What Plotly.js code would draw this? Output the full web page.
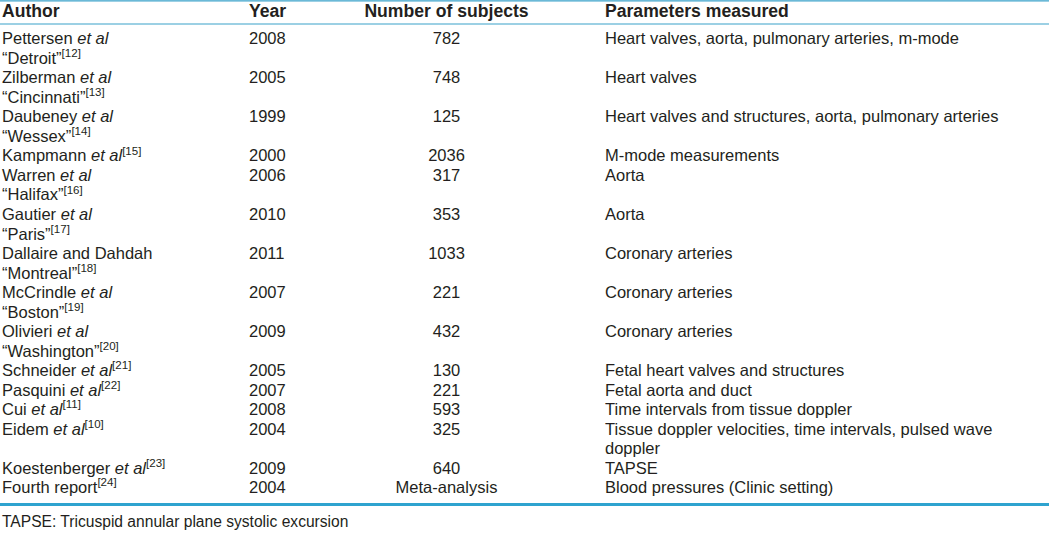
<!DOCTYPE html>
<html>
<head>
<meta charset="utf-8">
<script src="https://cdn.plot.ly/plotly-3.0.1.min.js"></script>
<style>
  html, body { margin: 0; padding: 0; overflow: hidden; background: #ffffff; }
  #chart { width: 1049px; height: 536px; }
</style>
</head>
<body>
<div id="chart"></div>
<script>
// ---- Data ----
const headers = ["Author", "Year", "Number of subjects", "Parameters measured"];
const authors = ["Pettersen <i>et al</i>", "Zilberman <i>et al</i>", "Daubeney <i>et al</i>", "Kampmann <i>et al</i>",
  "Warren <i>et al</i>", "Gautier <i>et al</i>", "Dallaire and Dahdah", "McCrindle <i>et al</i>", "Olivieri <i>et al</i>",
  "Schneider <i>et al</i>", "Pasquini <i>et al</i>", "Cui <i>et al</i>", "Eidem <i>et al</i>", "Koestenberger <i>et al</i>",
  "Fourth report"];
const cohorts = ["Detroit", "Cincinnati", "Wessex", "", "Halifax", "Paris", "Montreal", "Boston", "Washington",
  "", "", "", "", "", ""];
const refs = [12, 13, 14, 15, 16, 17, 18, 19, 20, 21, 22, 11, 10, 23, 24];
const years = [2008, 2005, 1999, 2000, 2006, 2010, 2011, 2007, 2009, 2005, 2007, 2008, 2004, 2009, 2004];
const subjects = ["782", "748", "125", "2036", "317", "353", "1033", "221", "432", "130", "221", "593", "325", "640", "Meta-analysis"];
const parameters = [
  "Heart valves, aorta, pulmonary arteries, m-mode",
  "Heart valves",
  "Heart valves and structures, aorta, pulmonary arteries",
  "M-mode measurements",
  "Aorta",
  "Aorta",
  "Coronary arteries",
  "Coronary arteries",
  "Coronary arteries",
  "Fetal heart valves and structures",
  "Fetal aorta and duct",
  "Time intervals from tissue doppler",
  "Tissue doppler velocities, time intervals, pulsed wave<br>doppler",
  "TAPSE",
  "Blood pressures (Clinic setting)"
];
const footnote = "TAPSE: Tricuspid annular plane systolic excursion";

// ---- Table geometry (style, not data) ----
const W = 1049, H = 536;
const COL_X = { author: 2, year: 249, subjects: 446.5, params: 605 };   // column anchors (px scale)
const PITCH = 19.52;          // px per printed line
const FIRST_CENTER = 40.2;    // px centre of first body line
const HEADER_ROW = -1.39;     // header line position in row units
const TXT = "#231f20";
const FONT = "Liberation Sans, Arial, Helvetica, sans-serif";
const BODY_FS = 16.5, HEAD_FS = 17.6;

// ---- Build one row per printed line (non-empty cells only) ----
const cols = { author: { t: [], y: [] }, year: { t: [], y: [] }, subjects: { t: [], y: [] }, params: { t: [], y: [] } };
function put(c, text, row) { if (text) { cols[c].t.push(text); cols[c].y.push(row); } }
let r = 0;
authors.forEach(function (a, i) {
  const sup = "<sup>[" + refs[i] + "]</sup>";
  const aLines = cohorts[i] ? [a, "\u201C" + cohorts[i] + "\u201D" + sup] : [a + sup];
  const pLines = parameters[i].split("<br>");
  const n = Math.max(aLines.length, pLines.length);
  for (let k = 0; k < n; k++) {
    put("author", aLines[k], r);
    if (k === 0) { put("year", String(years[i]), r); put("subjects", subjects[i], r); }
    put("params", pLines[k], r);
    r++;
  }
});

function col(xAnchor, texts, pos, fs, ys) {
  return {
    type: "scatter", mode: "text", x: ys.map(function () { return xAnchor; }), y: ys,
    text: texts, textposition: pos, hoverinfo: "skip", cliponaxis: false,
    textfont: { family: FONT, size: fs, color: TXT }
  };
}

const hy = [HEADER_ROW];
const traces = [
  col(COL_X.author, cols.author.t, "middle right", BODY_FS, cols.author.y),
  col(COL_X.year, cols.year.t, "middle right", BODY_FS, cols.year.y),
  col(COL_X.subjects, cols.subjects.t, "middle center", BODY_FS, cols.subjects.y),
  col(COL_X.params, cols.params.t, "middle right", BODY_FS, cols.params.y),
  col(COL_X.author, ["<b>" + headers[0] + "</b>"], "middle right", HEAD_FS, hy),
  col(COL_X.year, ["<b>" + headers[1] + "</b>"], "middle right", HEAD_FS, hy),
  col(COL_X.subjects, ["<b>" + headers[2] + "</b>"], "middle center", HEAD_FS, hy),
  col(COL_X.params, ["<b>" + headers[3] + "</b>"], "middle right", HEAD_FS, hy)
];

function py(p) { return 1 - p / H; }
const yTop = -FIRST_CENTER / PITCH, yBot = (H - FIRST_CENTER) / PITCH;

const layout = {
  width: W, height: H,
  margin: { l: 0, r: 0, t: 0, b: 0, pad: 0 },
  paper_bgcolor: "#ffffff", plot_bgcolor: "#ffffff",
  showlegend: false,
  xaxis: { range: [0, W], visible: false, fixedrange: true },
  yaxis: { range: [yBot, yTop], visible: false, fixedrange: true },
  shapes: [
    { type: "line", xref: "paper", yref: "paper", x0: 0, x1: 1, y0: py(0.8), y1: py(0.8), line: { color: "#3aa2ca", width: 1.2 } },
    { type: "line", xref: "paper", yref: "paper", x0: 0, x1: 1, y0: py(24), y1: py(24), line: { color: "#3aa2ca", width: 1.2 } },
    { type: "line", xref: "paper", yref: "paper", x0: 0, x1: 1, y0: py(504.5), y1: py(504.5), line: { color: "#2ea3cf", width: 3 } }
  ],
  annotations: [
    { text: footnote, xref: "paper", yref: "paper", x: 0, y: py(521.5), xanchor: "left", yanchor: "middle",
      showarrow: false, font: { family: FONT, size: 15.6, color: TXT } }
  ]
};

Plotly.newPlot("chart", traces, layout, { displayModeBar: false, staticPlot: true });
</script>
</body>
</html>
